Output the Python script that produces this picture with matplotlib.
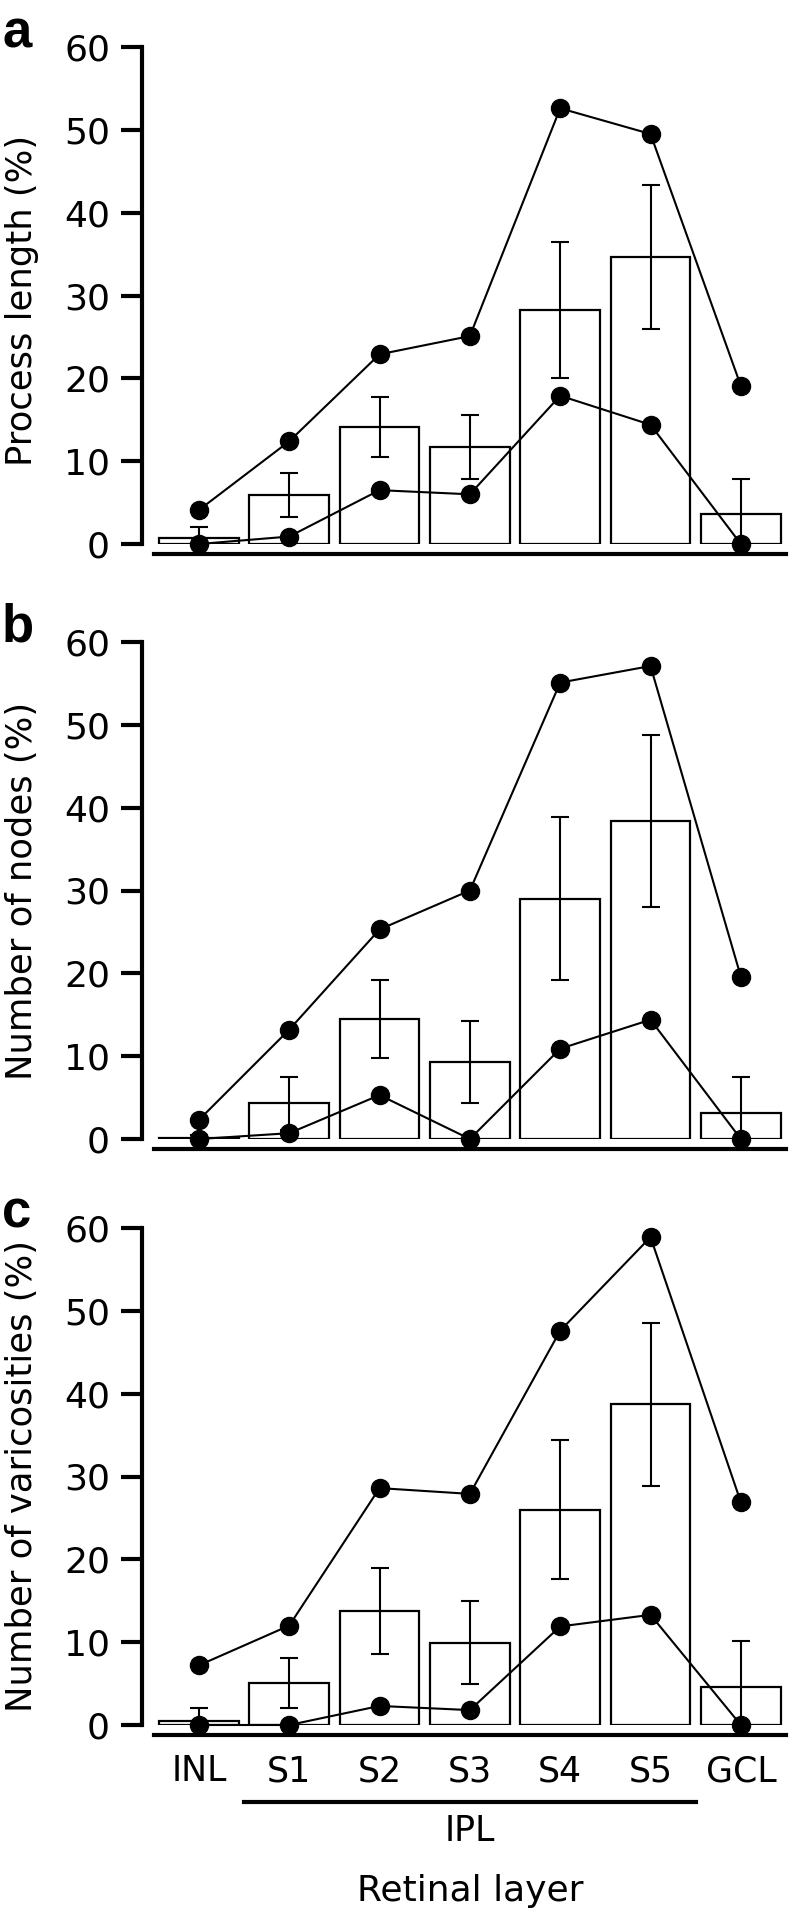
import matplotlib
matplotlib.use('Agg')
import matplotlib.pyplot as plt
import numpy as np

plt.rcParams['font.family'] = ['DejaVu Sans']

layers = ['INL', 'S1', 'S2', 'S3', 'S4', 'S5', 'GCL']

# panel a - process length (%)
len_mean = [0.7, 5.95, 14.1, 11.7, 28.25, 34.7, 3.6]
len_err = [1.3, 2.65, 3.6, 3.9, 8.15, 8.7, 4.2]
len_max = [4.1, 12.4, 22.9, 25.1, 52.6, 49.5, 19.1]
len_min = [0.0, 0.9, 6.5, 6.0, 17.9, 14.4, 0.0]

# panel b - number of nodes (%)
node_mean = [0.1, 4.3, 14.5, 9.3, 29.0, 38.4, 3.1]
node_err = [0.4, 3.2, 4.7, 5.0, 9.85, 10.35, 4.4]
node_max = [2.3, 13.2, 25.3, 30.0, 55.1, 57.1, 19.6]
node_min = [0.0, 0.7, 5.3, 0.0, 10.9, 14.4, 0.0]

# panel c - number of varicosities (%)
var_mean = [0.5, 5.05, 13.75, 9.95, 26.0, 38.7, 4.6]
var_err = [1.6, 3.05, 5.15, 5.05, 8.4, 9.8, 5.5]
var_max = [7.2, 12.0, 28.6, 27.9, 47.6, 58.9, 26.9]
var_min = [0.0, 0.0, 2.3, 1.8, 11.9, 13.3, 0.0]

W, H = 790, 1913
fig = plt.figure(figsize=(W / 100, H / 100), dpi=100)

x = np.arange(len(layers))


def panel(top_px, mean, err, hi, lo, ylabel, letter, label_y=0.5, last=False):
    # top_px = pixel row of the 60 tick, axes are 497 px tall
    ax = fig.add_axes([142 / W, 1 - (top_px + 497) / H, 644 / W, 497 / H])
    ax.bar(x, mean, width=0.88, color='white', edgecolor='black', linewidth=1.6)
    ax.errorbar(x, mean, yerr=err, fmt='none', ecolor='black', elinewidth=1.5,
                capsize=6.5, capthick=1.5)
    ax.plot(x, hi, 'o-', color='black', ms=13, lw=1.5, clip_on=False, zorder=5)
    ax.plot(x, lo, 'o-', color='black', ms=13, lw=1.5, clip_on=False, zorder=5)

    ax.set_xlim(-0.63, 6.5)
    ax.set_ylim(0, 60)
    ax.set_yticks(range(0, 61, 10))
    for s in ['top', 'right']:
        ax.spines[s].set_visible(False)
    ax.spines['left'].set_linewidth(3)
    ax.spines['left'].set_bounds(0, 60)
    ax.spines['bottom'].set_position(('outward', 7))
    ax.spines['bottom'].set_bounds(-0.5, 6.5)
    ax.spines['bottom'].set_linewidth(3)
    ax.tick_params(axis='y', length=15, width=3, labelsize=26, pad=8)
    ax.tick_params(axis='x', length=0, labelsize=25, pad=14)
    ax.set_xticks(x)
    if last:
        ax.set_xticklabels(layers)
    else:
        ax.set_xticklabels([])
    ax.set_ylabel(ylabel, fontsize=25.5)
    ax.yaxis.set_label_coords(-0.16, label_y)
    fig.text(2 / W, 1 - top_px / H, letter, fontsize=38, fontweight='bold',
             family='Liberation Sans', va='baseline', ha='left')
    return ax


panel(47, len_mean, len_err, len_max, len_min, 'Process length (%)', 'a', 0.49)
panel(642, node_mean, node_err, node_max, node_min, 'Number of nodes (%)', 'b')
ax = panel(1228, var_mean, var_err, var_max, var_min, 'Number of varicosities (%)', 'c',
           0.5, last=True)

trans = ax.get_xaxis_transform()
ax.plot([0.5, 5.5], [-0.155, -0.155], color='black', lw=3, transform=trans, clip_on=False)
ax.text(3, -0.213, 'IPL', transform=trans, ha='center', va='center', fontsize=25)
ax.text(3, -0.335, 'Retinal layer', transform=trans, ha='center', va='center', fontsize=26)

plt.savefig('out.png', dpi=100)
